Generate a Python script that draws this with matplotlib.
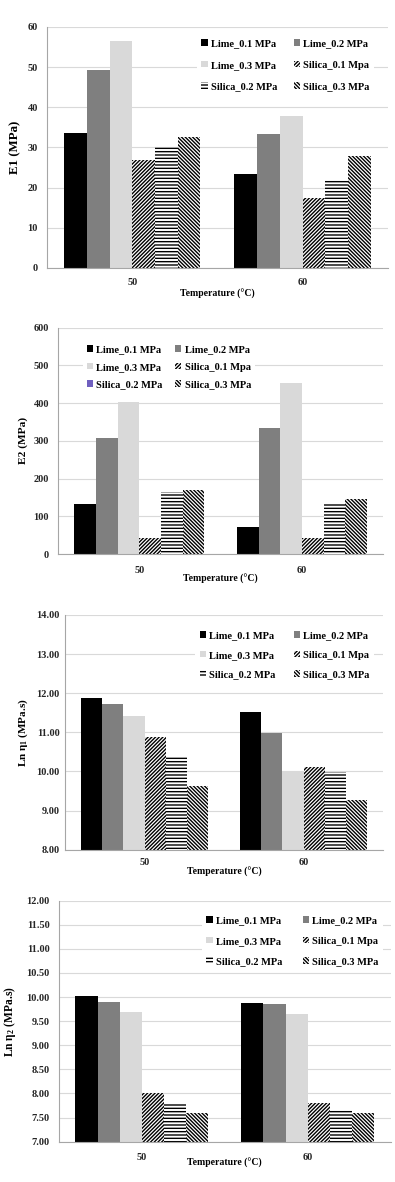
import matplotlib.pyplot as plt
from matplotlib.patches import Patch
import numpy as np

plt.rcParams['font.family'] = ['Liberation Serif', 'DejaVu Serif']
plt.rcParams['font.weight'] = 'bold'
plt.rcParams['mathtext.default'] = 'regular'
plt.rcParams['hatch.linewidth'] = 1.0

temps = ['50', '60']
series = ['Lime_0.1 MPa', 'Lime_0.2 MPa', 'Lime_0.3 MPa',
          'Silica_0.1 Mpa', 'Silica_0.2 MPa', 'Silica_0.3 MPa']

e1 = [[33.7, 23.5], [49.3, 33.3], [56.4, 37.8],
      [27.0, 17.5], [30.2, 22.0], [32.6, 27.9]]
e2 = [[133, 72], [308, 335], [403, 453],
      [43, 43], [165, 135], [170, 145]]
ln_eta1 = [[11.87, 11.53], [11.73, 10.98], [11.42, 10.02],
           [10.88, 10.12], [10.38, 9.98], [9.62, 9.28]]
ln_eta2 = [[10.03, 9.87], [9.90, 9.85], [9.70, 9.65],
           [8.00, 7.80], [7.80, 7.65], [7.60, 7.60]]

colors = ['#000000', '#7f7f7f', '#d9d9d9', 'white', 'white', 'white']
hatches = [None, None, None, '/' * 9, '-----', '\\' * 9]

fig = plt.figure(figsize=(3.95, 11.82), dpi=100)

panels = [
    dict(rect=[0.119, 0.7733, 0.863, 0.2039], data=e1, ylim=(0, 60), step=10, fmt='{:.0f}',
         ylabel='E1 (MPa)', ylfs=9.3, ylx=-0.075, xly=-0.087, xpad=7, ypad=6.5,
         leg=(0.425, 0.988), ls=1.2, cs=1.6, odd=None),
    dict(rect=[0.147, 0.5313, 0.823, 0.1915], data=e2, ylim=(0, 600), step=100, fmt='{:.0f}',
         ylabel='E2 (MPa)', ylfs=8.2, ylx=-0.092, xly=-0.088, xpad=8.5, ypad=6.5,
         leg=(0.060, 0.963), ls=0.8, cs=1.2, odd='#6f5fbf'),
    dict(rect=[0.165, 0.2811, 0.805, 0.1986], data=ln_eta1, ylim=(8, 14), step=1, fmt='{:.2f}',
         ylabel=r'Ln $\eta_1$ (MPa.s)', ylfs=8, ylx=-0.110, xly=-0.074, xpad=6, ypad=4,
         leg=(0.393, 0.970), ls=1.0, cs=1.8, odd=None),
    dict(rect=[0.149, 0.0341, 0.840, 0.2039], data=ln_eta2, ylim=(7, 12), step=0.5, fmt='{:.2f}',
         ylabel=r'Ln $\eta_2$ (MPa.s)', ylfs=8.3, ylx=-0.122, xly=-0.068, xpad=8, ypad=6.5,
         leg=(0.416, 0.974), ls=1.1, cs=2.0, odd=None),
]

x = np.arange(len(temps))
width = 0.8 / len(series)

for p in panels:
    ax = fig.add_axes(p['rect'])
    for i, name in enumerate(series):
        ax.bar(x - 0.4 + width * (i + 0.5), np.array(p['data'][i]) - p['ylim'][0],
               width, bottom=p['ylim'][0], color=colors[i], hatch=hatches[i],
               edgecolor='black', linewidth=0, label=name, zorder=2)
    ax.set_xlim(-0.5, 1.5)
    ax.set_ylim(*p['ylim'])
    yt = np.arange(p['ylim'][0], p['ylim'][1] + p['step'] / 2, p['step'])
    ax.set_yticks(yt)
    ax.set_yticklabels([p['fmt'].format(v) for v in yt])
    ax.set_xticks(x)
    ax.set_xticklabels(temps)
    ax.tick_params(axis='both', length=0, labelsize=7.5, colors='#262626')
    ax.tick_params(axis='x', pad=p['xpad'])
    ax.tick_params(axis='y', pad=p['ypad'])
    ax.grid(axis='y', color='#d9d9d9', linewidth=0.8, zorder=0)
    ax.set_axisbelow(True)
    for s in ['top', 'right']:
        ax.spines[s].set_visible(False)
    for s in ['left', 'bottom']:
        ax.spines[s].set_color('#a6a6a6')
        ax.spines[s].set_linewidth(0.8)
    ax.set_ylabel(p['ylabel'], fontsize=p['ylfs'], fontweight='bold')
    ax.yaxis.set_label_coords(p['ylx'], 0.5)
    ax.set_xlabel('Temperature (°C)', fontsize=7, fontweight='bold', va='top')
    ax.xaxis.set_label_coords(0.5, p['xly'])
    handles, labels = ax.get_legend_handles_labels()
    if p['odd']:
        handles[4] = Patch(facecolor=p['odd'], edgecolor='none')
    order = [0, 2, 4, 1, 3, 5]
    leg = ax.legend([handles[k] for k in order], [labels[k] for k in order],
                    ncol=2, loc='upper left', bbox_to_anchor=p['leg'],
                    fontsize=7.5, frameon=True, fancybox=False, framealpha=1,
                    edgecolor='none', facecolor='white', handlelength=0.6,
                    handleheight=0.6, handletextpad=0.3, labelspacing=p['ls'],
                    columnspacing=p['cs'], borderpad=0.4)
    leg.set_zorder(5)

fig.savefig('out.png', dpi=100)
